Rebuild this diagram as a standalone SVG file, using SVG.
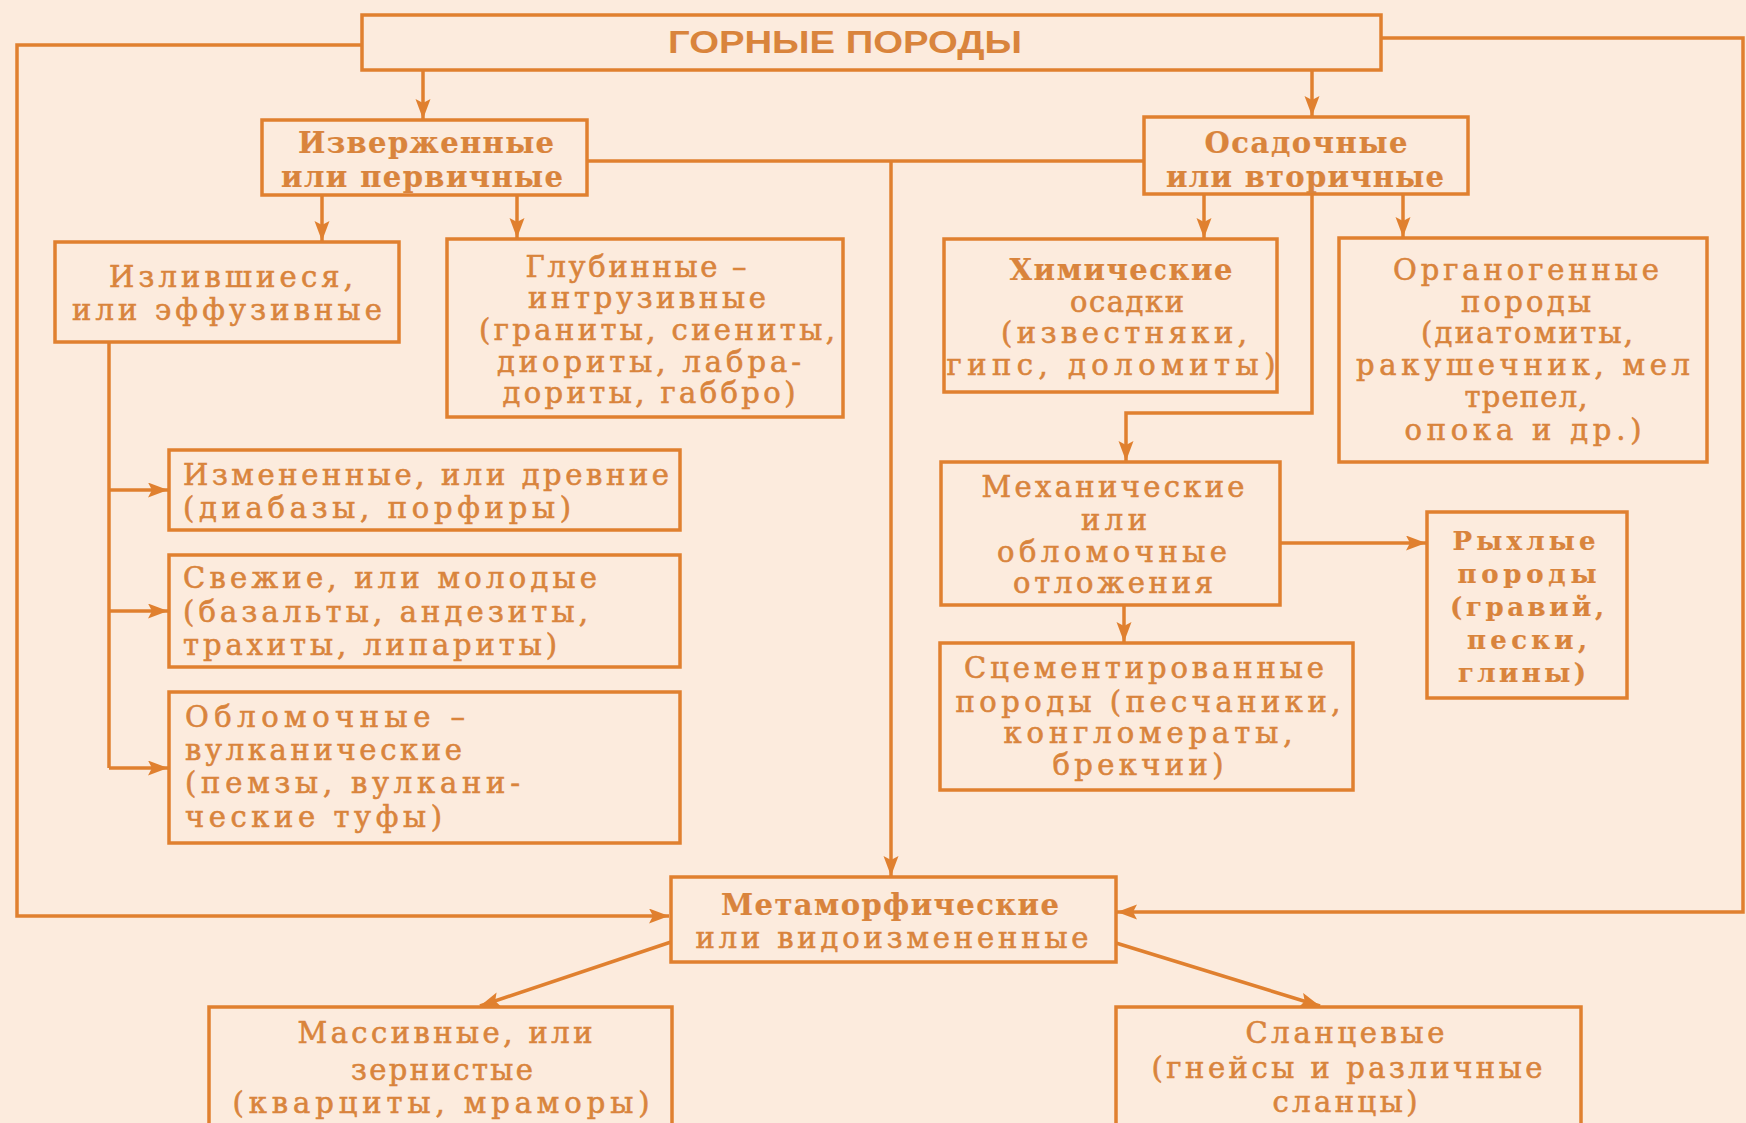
<svg xmlns="http://www.w3.org/2000/svg" width="1746" height="1123" viewBox="0 0 1746 1123">
<style>
.box{fill:none;stroke:#e0802f;stroke-width:3.5}
.ln{fill:none;stroke:#e0802f;stroke-width:3.5}
.t{font-family:"DejaVu Serif","Liberation Serif",serif;font-size:29px;fill:#d9843c;stroke:#d9843c;stroke-width:0.6;dominant-baseline:central;text-anchor:middle}
.b{font-weight:bold;stroke-width:0.2}
.s{font-size:26px}
.l{text-anchor:start}
.h{font-family:"Liberation Sans",Arial,sans-serif;font-size:31px;font-weight:bold;fill:#d9843c;dominant-baseline:central;text-anchor:middle}
</style>
<defs>
<marker id="ar" markerUnits="userSpaceOnUse" markerWidth="22" markerHeight="16" refX="20" refY="7.5" orient="auto">
<path d="M0,0 L20,7.5 L0,15 L4,7.5 z" fill="#e0802f"/>
</marker>
</defs>
<rect width="1746" height="1123" fill="#fcebdd"/>

<g id="connectors">
<path class="ln" d="M362,45 H17 V916 H669" marker-end="url(#ar)"/>
<path class="ln" d="M1381,38 H1743 V912 H1117" marker-end="url(#ar)"/>
<path class="ln" d="M423,70 V119" marker-end="url(#ar)"/>
<path class="ln" d="M1312,70 V116" marker-end="url(#ar)"/>
<path class="ln" d="M587,161 H1144"/>
<path class="ln" d="M891,161 V876" marker-end="url(#ar)"/>
<path class="ln" d="M322,195 V241" marker-end="url(#ar)"/>
<path class="ln" d="M517,195 V238" marker-end="url(#ar)"/>
<path class="ln" d="M109,342 V768"/>
<path class="ln" d="M109,490 H168" marker-end="url(#ar)"/>
<path class="ln" d="M109,611 H168" marker-end="url(#ar)"/>
<path class="ln" d="M109,768 H168" marker-end="url(#ar)"/>
<path class="ln" d="M1204,194 V238" marker-end="url(#ar)"/>
<path class="ln" d="M1403,194 V237" marker-end="url(#ar)"/>
<path class="ln" d="M1312,194 V413 H1126 V461" marker-end="url(#ar)"/>
<path class="ln" d="M1280,543 H1426" marker-end="url(#ar)"/>
<path class="ln" d="M1124,605 V642" marker-end="url(#ar)"/>
<path class="ln" d="M671,942 L480,1006" marker-end="url(#ar)"/>
<path class="ln" d="M1116,943 L1320,1006" marker-end="url(#ar)"/>
</g>

<g id="gornye">
<rect class="box" x="362" y="15" width="1019" height="55"/>
<text class="h" x="845" y="42" textLength="354" lengthAdjust="spacingAndGlyphs">ГОРНЫЕ ПОРОДЫ</text>
</g>

<g id="izverzhennye">
<rect class="box" x="262" y="120" width="325" height="75"/>
<text class="t b" x="426" y="143" textLength="256" lengthAdjust="spacing">Изверженные</text>
<text class="t b" x="422" y="177" textLength="282" lengthAdjust="spacing">или первичные</text>
</g>

<g id="osadochnye">
<rect class="box" x="1144" y="117" width="324" height="77"/>
<text class="t b" x="1306" y="143" textLength="203" lengthAdjust="spacing">Осадочные</text>
<text class="t b" x="1305" y="177" textLength="278" lengthAdjust="spacing">или вторичные</text>
</g>

<g id="izlivshiesya">
<rect class="box" x="55" y="242" width="344" height="100"/>
<text class="t" x="231" y="277" textLength="244" lengthAdjust="spacing">Излившиеся,</text>
<text class="t" x="227" y="310" textLength="310" lengthAdjust="spacing">или эффузивные</text>
</g>

<g id="glubinnye">
<rect class="box" x="447" y="239" width="396" height="178"/>
<text class="t" x="636" y="267" textLength="221" lengthAdjust="spacing">Глубинные –</text>
<text class="t" x="647" y="298" textLength="238" lengthAdjust="spacing">интрузивные</text>
<text class="t" x="657" y="330" textLength="356" lengthAdjust="spacing">(граниты, сиениты,</text>
<text class="t" x="649" y="362" textLength="304" lengthAdjust="spacing">диориты, лабра-</text>
<text class="t" x="649" y="393" textLength="293" lengthAdjust="spacing">дориты, габбро)</text>
</g>

<g id="izmenennye">
<rect class="box" x="169" y="450" width="511" height="80"/>
<text class="t l" x="183" y="475" textLength="486" lengthAdjust="spacing">Измененные, или древние</text>
<text class="t l" x="183" y="508" textLength="388" lengthAdjust="spacing">(диабазы, порфиры)</text>
</g>

<g id="svezhie">
<rect class="box" x="169" y="555" width="511" height="112"/>
<text class="t l" x="183" y="578" textLength="414" lengthAdjust="spacing">Свежие, или молодые</text>
<text class="t l" x="183" y="612" textLength="405" lengthAdjust="spacing">(базальты, андезиты,</text>
<text class="t l" x="183" y="645" textLength="374" lengthAdjust="spacing">трахиты, липариты)</text>
</g>

<g id="oblomochnye-vulk">
<rect class="box" x="169" y="692" width="511" height="151"/>
<text class="t l" x="185" y="717" textLength="280" lengthAdjust="spacing">Обломочные –</text>
<text class="t l" x="185" y="750" textLength="277" lengthAdjust="spacing">вулканические</text>
<text class="t l" x="185" y="783" textLength="335" lengthAdjust="spacing">(пемзы, вулкани-</text>
<text class="t l" x="185" y="817" textLength="257" lengthAdjust="spacing">ческие туфы)</text>
</g>

<g id="khimicheskie">
<rect class="box" x="944" y="239" width="333" height="153"/>
<text class="t b" x="1121" y="270" textLength="223" lengthAdjust="spacing">Химические</text>
<text class="t" x="1127" y="302" textLength="114" lengthAdjust="spacing">осадки</text>
<text class="t" x="1124" y="333" textLength="246" lengthAdjust="spacing">(известняки,</text>
<text class="t" x="1111" y="365" textLength="329" lengthAdjust="spacing">гипс, доломиты)</text>
</g>

<g id="organogennye">
<rect class="box" x="1339" y="238" width="368" height="224"/>
<text class="t" x="1526" y="270" textLength="266" lengthAdjust="spacing">Органогенные</text>
<text class="t" x="1526" y="302" textLength="130" lengthAdjust="spacing">породы</text>
<text class="t" x="1527" y="333" textLength="212" lengthAdjust="spacing">(диатомиты,</text>
<text class="t" x="1523" y="365" textLength="334" lengthAdjust="spacing">ракушечник, мел</text>
<text class="t" x="1526" y="397" textLength="123" lengthAdjust="spacing">трепел,</text>
<text class="t" x="1523" y="430" textLength="237" lengthAdjust="spacing">опока и др.)</text>
</g>

<g id="mekhanicheskie">
<rect class="box" x="941" y="462" width="339" height="143"/>
<text class="t" x="1113" y="487" textLength="263" lengthAdjust="spacing">Механические</text>
<text class="t" x="1114" y="520" textLength="66" lengthAdjust="spacing">или</text>
<text class="t" x="1112" y="552" textLength="230" lengthAdjust="spacing">обломочные</text>
<text class="t" x="1113" y="583" textLength="200" lengthAdjust="spacing">отложения</text>
</g>

<g id="rykhlye">
<rect class="box" x="1427" y="512" width="200" height="186"/>
<text class="t b s" x="1524" y="541" textLength="143" lengthAdjust="spacing">Рыхлые</text>
<text class="t b s" x="1527" y="574" textLength="139" lengthAdjust="spacing">породы</text>
<text class="t b s" x="1527" y="607" textLength="154" lengthAdjust="spacing">(гравий,</text>
<text class="t b s" x="1527" y="640" textLength="120" lengthAdjust="spacing">пески,</text>
<text class="t b s" x="1522" y="673" textLength="128" lengthAdjust="spacing">глины)</text>
</g>

<g id="scementirovannye">
<rect class="box" x="940" y="643" width="413" height="147"/>
<text class="t" x="1144" y="668" textLength="360" lengthAdjust="spacing">Сцементированные</text>
<text class="t" x="1148" y="702" textLength="385" lengthAdjust="spacing">породы (песчаники,</text>
<text class="t" x="1148" y="733" textLength="289" lengthAdjust="spacing">конгломераты,</text>
<text class="t" x="1138" y="765" textLength="171" lengthAdjust="spacing">брекчии)</text>
</g>

<g id="metamorficheskie">
<rect class="box" x="671" y="877" width="445" height="85"/>
<text class="t b" x="890" y="905" textLength="338" lengthAdjust="spacing">Метаморфические</text>
<text class="t" x="892" y="938" textLength="393" lengthAdjust="spacing">или видоизмененные</text>
</g>

<g id="massivnye">
<rect class="box" x="209" y="1007" width="463" height="130"/>
<text class="t" x="445" y="1033" textLength="295" lengthAdjust="spacing">Массивные, или</text>
<text class="t" x="442" y="1070" textLength="182" lengthAdjust="spacing">зернистые</text>
<text class="t" x="441" y="1103" textLength="417" lengthAdjust="spacing">(кварциты, мраморы)</text>
</g>

<g id="slancevye">
<rect class="box" x="1116" y="1007" width="465" height="130"/>
<text class="t" x="1345" y="1033" textLength="199" lengthAdjust="spacing">Сланцевые</text>
<text class="t" x="1347" y="1068" textLength="391" lengthAdjust="spacing">(гнейсы и различные</text>
<text class="t" x="1345" y="1102" textLength="145" lengthAdjust="spacing">сланцы)</text>
</g>
</svg>
